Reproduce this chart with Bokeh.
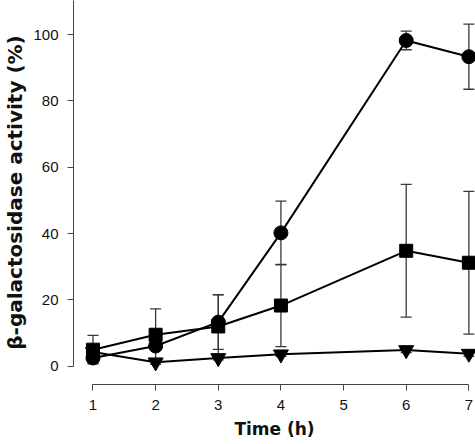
from bokeh.plotting import figure
from bokeh.models import Whisker, TeeHead, ColumnDataSource, FixedTicker, Range1d
from bokeh.embed import file_html
from bokeh.resources import INLINE

hours = [1, 2, 3, 4, 6, 7]
circle_mean = [2.5, 6.1, 13.3, 40.2, 98.2, 93.3]
circle_err = [1.5, 1.2, 8.2, 9.6, 2.8, 9.8]
square_mean = [5.0, 9.5, 12.0, 18.3, 34.8, 31.2]
square_err = [4.3, 7.8, 9.6, 12.4, 20.0, 21.5]
tri_mean = [4.3, 1.2, 2.5, 3.6, 4.9, 3.8]
tri_err = [0.8, 0.6, 0.6, 0.6, 0.8, 0.8]
x_ticks = [1, 2, 3, 4, 5, 6, 7]
y_ticks = [0, 20, 40, 60, 80, 100]

AX = "#444444"
EB = "#3a3a3a"

p = figure(width=475, height=444, x_range=Range1d(0.689, 7.106), y_range=Range1d(-5.5, 110.25),
           output_backend="svg", toolbar_location=None,
           min_border_left=69, min_border_right=0, min_border_top=0, min_border_bottom=60)
p.outline_line_color = None
p.xgrid.visible = False
p.ygrid.visible = False

for ax in (p.xaxis[0], p.yaxis[0]):
    ax.axis_line_color = AX
    ax.major_tick_line_color = AX
    ax.minor_tick_line_color = None
    ax.major_tick_in = 0
    ax.major_tick_out = 6
    ax.major_label_text_font = "Liberation Sans"
    ax.major_label_text_font_size = "15px"
    ax.major_label_text_color = "#111111"
    ax.axis_label_text_font = "DejaVu Sans"
    ax.axis_label_text_font_style = "bold"
    ax.axis_label_text_color = "#111111"

p.xaxis.ticker = FixedTicker(ticks=x_ticks)
p.yaxis.ticker = FixedTicker(ticks=y_ticks)
p.xaxis.bounds = (1, 7)
p.yaxis.bounds = (0, 110.25)
p.xaxis.axis_label = "Time (h)"
p.yaxis.axis_label = "β-galactosidase activity (%)"
p.xaxis.axis_label_text_font_size = "17px"
p.yaxis.axis_label_text_font_size = "20px"
p.xaxis.major_label_standoff = 9
p.yaxis.major_label_standoff = 9
p.xaxis.axis_label_standoff = 6
p.yaxis.axis_label_standoff = 3

series = [
    (circle_mean, circle_err, "circle", 14),
    (square_mean, square_err, "square", 13),
    (tri_mean, tri_err, "inverted_triangle", 15),
]

for mean, err, marker, size in series:
    src = ColumnDataSource(dict(
        x=hours, y=mean,
        upper=[m + e for m, e in zip(mean, err)],
        lower=[m - e for m, e in zip(mean, err)],
    ))
    w = Whisker(base="x", upper="upper", lower="lower", source=src,
                line_color=EB, line_width=1.3,
                upper_head=TeeHead(size=11, line_color=EB, line_width=1.3),
                lower_head=TeeHead(size=11, line_color=EB, line_width=1.3))
    p.add_layout(w)

for mean, err, marker, size in series:
    p.line(hours, mean, line_color="black", line_width=2)

for mean, err, marker, size in series:
    p.scatter(hours, mean, marker=marker, size=size, fill_color="black", line_color="black")

open("out.html", "w").write(file_html(p, INLINE))
